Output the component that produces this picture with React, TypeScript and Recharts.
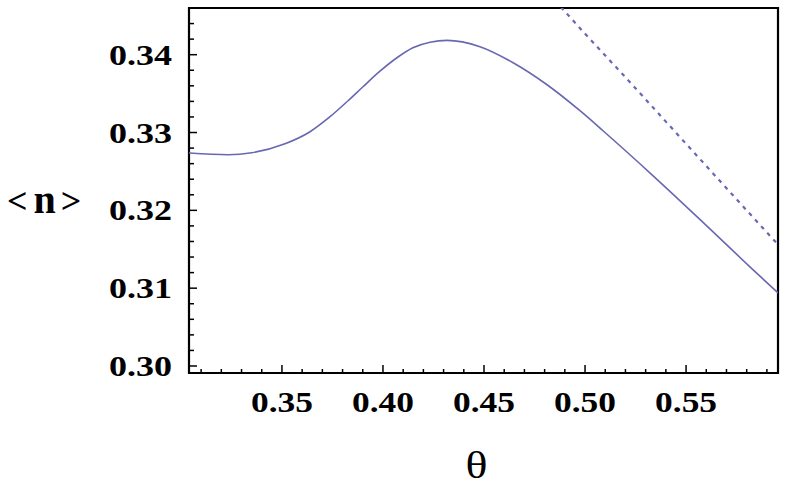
import React from 'react';
import { LineChart, Line, XAxis, YAxis, ReferenceArea, Label } from 'recharts';

const solidTheta = [0.304, 0.3233, 0.3351, 0.3515, 0.3639, 0.3738, 0.3827, 0.3901, 0.3985, 0.4069, 0.4148, 0.4233, 0.4317, 0.448, 0.4644, 0.4812, 0.4975, 0.5089, 0.5337, 0.5584, 0.5832, 0.5955];
const solidN = [0.32736, 0.32714, 0.3274, 0.32855, 0.3301, 0.33203, 0.33408, 0.33588, 0.33788, 0.33961, 0.3409, 0.34161, 0.34184, 0.34103, 0.33897, 0.33614, 0.3328, 0.33023, 0.32444, 0.31846, 0.31235, 0.30939];

const dashedTheta = [0.485, 0.5, 0.52, 0.54, 0.56, 0.58, 0.5955];
const dashedN = [0.347, 0.3427, 0.3371, 0.3314, 0.3257, 0.32, 0.3156];

const majorX = [0.35, 0.4, 0.45, 0.5, 0.55];
const minorX = [0.31, 0.32, 0.33, 0.34, 0.36, 0.37, 0.38, 0.39, 0.41, 0.42, 0.43, 0.44, 0.46, 0.47, 0.48, 0.49, 0.51, 0.52, 0.53, 0.54, 0.56, 0.57, 0.58, 0.59];
const majorY = [0.3, 0.31, 0.32, 0.33, 0.34];
const minorY = [0.302, 0.304, 0.306, 0.308, 0.312, 0.314, 0.316, 0.318, 0.322, 0.324, 0.326, 0.328, 0.332, 0.334, 0.336, 0.338, 0.342, 0.344];

const xDomain = [0.304, 0.5955];
const yDomain = [0.2991, 0.346];

const solidData = solidTheta.map((t, i) => ({ theta: t, n: solidN[i] }));
const dashedData = dashedTheta.map((t, i) => ({ theta: t, n: dashedN[i] }));

const allX = [...majorX, ...minorX].sort((a, b) => a - b);
const allY = [...majorY, ...minorY].sort((a, b) => a - b);

const isMajor = (v: number, list: number[]) => list.some((m) => Math.abs(m - v) < 1e-6);

const FONT = '"Liberation Serif", "Times New Roman", serif';
const LINE_COLOR = '#6868b2';

const XTick = (props: any) => {
  const { x, y, payload } = props;
  const major = isMajor(payload.value, majorX);
  return (
    <g>
      <line x1={x} x2={x} y1={y} y2={y - (major ? 8 : 4)} stroke="#000" strokeWidth={1.5} />
      {major && (
        <text
          x={x}
          y={y + 39}
          textAnchor="middle"
          fontFamily={FONT}
          fontWeight="bold"
          fontSize={30}
          fill="#000"
          textLength={62}
          lengthAdjust="spacingAndGlyphs"
        >
          {payload.value.toFixed(2)}
        </text>
      )}
    </g>
  );
};

const YTick = (props: any) => {
  const { x, y, payload } = props;
  const major = isMajor(payload.value, majorY);
  return (
    <g>
      <line x1={x} x2={x + (major ? 8 : 5)} y1={y} y2={y} stroke="#000" strokeWidth={1.5} />
      {major && (
        <text
          x={x - 17}
          y={y + 10}
          textAnchor="end"
          fontFamily={FONT}
          fontWeight="bold"
          fontSize={30}
          fill="#000"
          textLength={63}
          lengthAdjust="spacingAndGlyphs"
        >
          {payload.value.toFixed(2)}
        </text>
      )}
    </g>
  );
};

export default function App() {
  return (
    <div style={{ position: 'absolute', left: 0, top: 0, background: '#fff' }}>
      <LineChart
        width={789}
        height={489}
        margin={{ top: 8, right: 11, bottom: 115, left: 188 }}
      >
        <XAxis
          type="number"
          dataKey="theta"
          domain={xDomain}
          allowDataOverflow
          ticks={allX}
          interval={0}
          tick={<XTick />}
          tickLine={false}
          tickSize={0}
          tickMargin={0}
          height={1}
          axisLine={false}
        >
          <Label
            content={(p: any) => {
              const vb = p.viewBox;
              return (
                <text
                  x={vb.x + vb.width / 2 - 7}
                  y={vb.y + 105}
                  textAnchor="middle"
                  fontFamily={FONT}
                  fontSize={37}
                  fill="#000"
                  textLength={22}
                  lengthAdjust="spacingAndGlyphs"
                >
                  θ
                </text>
              );
            }}
          />
        </XAxis>
        <YAxis
          type="number"
          dataKey="n"
          domain={yDomain}
          allowDataOverflow
          ticks={allY}
          interval={0}
          tick={<YTick />}
          tickLine={false}
          tickSize={0}
          tickMargin={0}
          width={1}
          axisLine={false}
        >
          <Label
            content={(p: any) => {
              const vb = p.viewBox;
              return (
                <text
                  x={vb.x - 181}
                  y={vb.y + vb.height / 2 + 22}
                  textAnchor="start"
                  fontFamily={FONT}
                  fill="#000"
                >
                  <tspan fontSize={36} fontWeight="bold">{'<'}</tspan>
                  <tspan dx={6} fontSize={40} fontWeight="bold">n</tspan>
                  <tspan dx={5} fontSize={36} fontWeight="bold">{'>'}</tspan>
                </text>
              );
            }}
          />
        </YAxis>
        <ReferenceArea
          x1={xDomain[0]}
          x2={xDomain[1]}
          y1={yDomain[0]}
          y2={yDomain[1]}
          fill="none"
          fillOpacity={0}
          stroke="#000"
          strokeWidth={2.2}
          ifOverflow="visible"
        />
        <Line
          data={solidData}
          dataKey="n"
          type="monotone"
          stroke={LINE_COLOR}
          strokeWidth={1.6}
          dot={false}
          activeDot={false}
          isAnimationActive={false}
        />
        <Line
          data={dashedData}
          dataKey="n"
          type="monotone"
          stroke={LINE_COLOR}
          strokeWidth={2.2}
          strokeDasharray="4 5"
          dot={false}
          activeDot={false}
          isAnimationActive={false}
        />
      </LineChart>
    </div>
  );
}
